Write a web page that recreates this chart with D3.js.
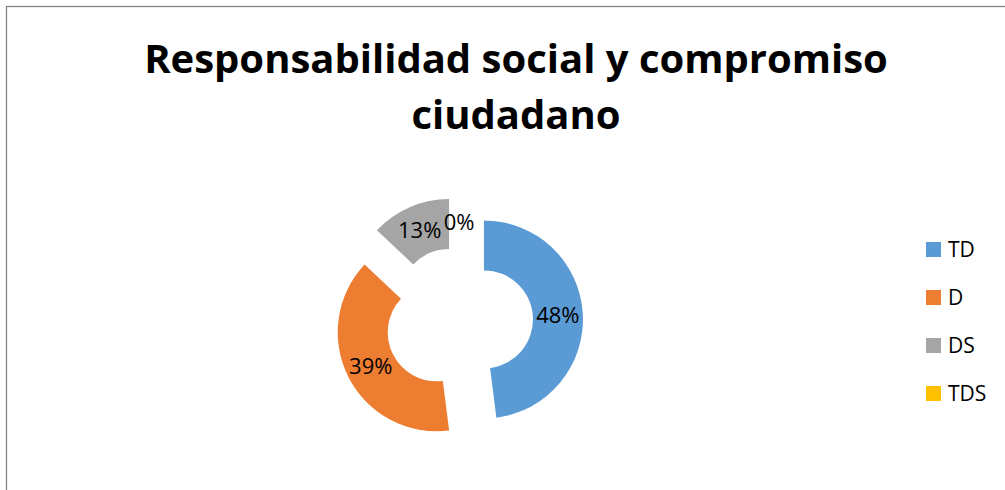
<!DOCTYPE html>
<html>
<head>
<meta charset="utf-8">
<script src="https://cdn.jsdelivr.net/npm/d3@7"></script>
<style>
  body { margin: 0; background: #fff; }
  svg { display: block; }
</style>
</head>
<body>
<svg width="1005" height="490"></svg>
<script>
// chart data
const categories = ["TD", "D", "DS", "TDS"];
const values = [48, 39, 13, 0];
const colors = ["#5B9BD5", "#ED7D31", "#A5A5A5", "#FFC000"];
const titleLines = ["Responsabilidad social y compromiso", "ciudadano"];

const svg = d3.select("svg");
const font = "'Open Sans', 'Noto Sans', sans-serif";

// outer frame
svg.append("rect")
  .attr("x", 6.5).attr("y", 6.5)
  .attr("width", 1010).attr("height", 500)
  .attr("fill", "none")
  .attr("stroke", "#868686")
  .attr("stroke-width", 1.3);

// title
svg.append("g").selectAll("text")
  .data(titleLines)
  .enter()
  .append("text")
  .attr("x", 516)
  .attr("y", (d, i) => 73 + i * 56)
  .attr("text-anchor", "middle")
  .attr("font-family", font)
  .attr("font-weight", "bold")
  .attr("font-size", 40)
  .attr("fill", "#000")
  .text(d => d);

// donut
const cx = 459, cy = 321, R = 99, r = 49, explode = 25;
const pie = d3.pie().sort(null).value(d => d)(values);
const arc = d3.arc().innerRadius(r).outerRadius(R);
const labelArc = d3.arc().innerRadius((R + r) / 2).outerRadius((R + r) / 2);

const g = svg.append("g").attr("transform", `translate(${cx},${cy})`);

const slices = g.selectAll(".slice")
  .data(pie)
  .enter()
  .append("g")
  .attr("class", "slice")
  .attr("transform", d => {
    const a = (d.startAngle + d.endAngle) / 2;
    return `translate(${explode * Math.sin(a)},${-explode * Math.cos(a)})`;
  });

slices.append("path")
  .attr("d", arc)
  .attr("fill", (d, i) => colors[i]);

slices.append("text")
  .attr("transform", d => `translate(${labelArc.centroid(d)})`)
  .attr("text-anchor", "middle")
  .attr("dy", "0.36em")
  .attr("font-family", font)
  .attr("font-size", 22)
  .attr("fill", "#000")
  .text(d => d.data + "%");

// legend
const legend = svg.append("g").selectAll("g")
  .data(categories)
  .enter()
  .append("g")
  .attr("transform", (d, i) => `translate(926,${242 + i * 48})`);

legend.append("rect")
  .attr("width", 15).attr("height", 15)
  .attr("fill", (d, i) => colors[i]);

legend.append("text")
  .attr("x", 22).attr("y", 7.5)
  .attr("dy", "0.36em")
  .attr("font-family", font)
  .attr("font-size", 21)
  .attr("fill", "#000")
  .text(d => d);
</script>
</body>
</html>
